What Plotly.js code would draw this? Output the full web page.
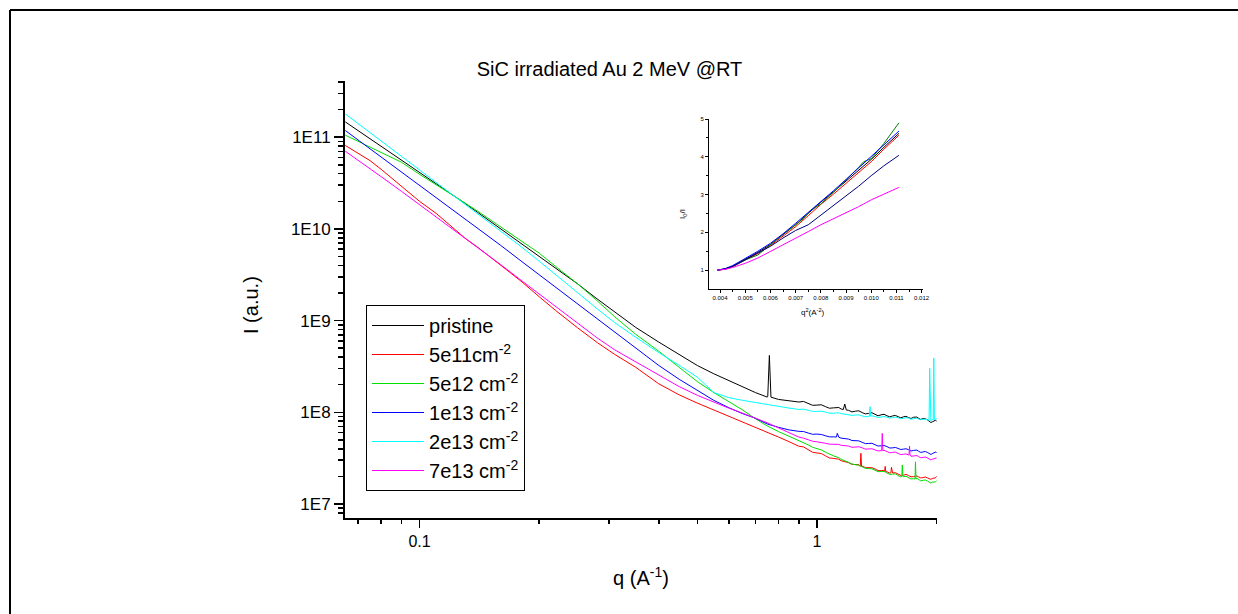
<!DOCTYPE html>
<html>
<head>
<meta charset="utf-8">
<script src="https://cdn.plot.ly/plotly-3.0.1.min.js"></script>
<style>
  html, body { margin:0; padding:0; background:#fff; }
  #chart { width:1238px; height:614px; }
</style>
</head>
<body>
<div id="chart"></div>
<script>
// ---------- Main chart data (q in 1/A, intensity stored as log10(I)) ----------
const qGrid = [0.065,0.07,0.075,0.08,0.09,0.1,0.11,0.12,0.13,0.14,0.16,0.18,0.2,0.22,0.25,0.28,0.31,0.35,0.4,0.45,0.5,0.55,
  0.6,0.65,0.7,0.75,0.8,0.85,0.9,0.95,1.0,1.05,1.1,1.15,1.2,1.25,1.3,1.35,1.4,1.45,1.5,1.55,1.6,1.65,1.7,1.75,1.8,1.85,1.9,1.95,2.0];

const seriesNames = ['pristine','5e11cm<sup>-2</sup>','5e12 cm<sup>-2</sup>','1e13 cm<sup>-2</sup>','2e13 cm<sup>-2</sup>','7e13 cm<sup>-2</sup>'];

const logI_pristine = [11.167,11.073,10.984,10.901,10.751,10.615,10.494,10.382,10.279,10.180,10.000,9.842,9.699,9.572,9.399,9.235,9.090,8.925,8.765,8.630,8.510,8.420,
  8.345,8.275,8.215,8.165,8.140,8.128,8.112,8.098,8.078,8.062,8.048,8.036,8.022,8.012,7.996,7.988,7.978,7.972,7.962,7.960,7.952,7.950,7.942,7.946,7.936,7.932,7.915,7.895,7.905];
const logI_5e11 = [10.910,10.820,10.745,10.650,10.470,10.300,10.170,10.030,9.900,9.800,9.600,9.430,9.260,9.110,8.920,8.760,8.630,8.490,8.310,8.190,8.100,8.025,
  7.960,7.900,7.843,7.780,7.730,7.680,7.630,7.592,7.556,7.526,7.497,7.472,7.451,7.428,7.412,7.394,7.382,7.363,7.352,7.338,7.327,7.314,7.311,7.298,7.296,7.288,7.283,7.278,7.300];
const logI_5e12 = [11.022,10.955,10.892,10.833,10.727,10.595,10.484,10.381,10.283,10.193,10.025,9.877,9.735,9.590,9.400,9.215,9.040,8.850,8.665,8.490,8.335,8.215,
  8.115,8.025,7.930,7.850,7.790,7.740,7.690,7.645,7.605,7.565,7.525,7.488,7.455,7.428,7.405,7.386,7.368,7.354,7.338,7.326,7.310,7.298,7.290,7.276,7.268,7.258,7.248,7.238,7.252];
const logI_1e13 = [11.073,10.970,10.875,10.785,10.620,10.475,10.344,10.222,10.110,10.010,9.820,9.650,9.500,9.365,9.180,9.020,8.875,8.700,8.510,8.360,8.235,8.130,
  8.050,7.985,7.935,7.872,7.836,7.808,7.792,7.774,7.762,7.744,7.732,7.718,7.708,7.690,7.672,7.660,7.646,7.634,7.626,7.612,7.606,7.598,7.592,7.584,7.576,7.568,7.560,7.548,7.562];
const logI_2e13 = [11.254,11.149,11.051,10.960,10.793,10.643,10.509,10.385,10.270,10.166,9.980,9.807,9.648,9.505,9.303,9.127,8.977,8.818,8.650,8.512,8.383,8.215,
  8.160,8.130,8.105,8.088,8.062,8.046,8.031,8.022,8.010,8.002,7.990,7.986,7.974,7.970,7.960,7.956,7.954,7.948,7.946,7.942,7.940,7.934,7.936,7.930,7.928,7.924,7.914,7.920,7.930];
const logI_7e13 = [10.847,10.750,10.655,10.570,10.410,10.265,10.135,10.015,9.905,9.800,9.610,9.440,9.290,9.155,8.970,8.810,8.680,8.550,8.410,8.280,8.185,8.110,
  8.045,7.990,7.940,7.885,7.830,7.775,7.730,7.700,7.678,7.662,7.650,7.640,7.632,7.620,7.612,7.600,7.590,7.582,7.572,7.562,7.552,7.542,7.535,7.525,7.518,7.508,7.500,7.488,7.502];

// extra readings between grid points in the noisy high-q tail (q, log10 I)
const qNoise = [0.925,0.975,1.025,1.075,1.135,1.225,1.275,1.325,1.375,1.425,1.475,1.525,1.575,1.625,1.675,1.725,1.785,1.825,1.875,1.935,1.985];
const noise_pristine = [8.118,8.076,8.082,8.044,8.052,8.004,8.016,7.982,7.995,7.962,7.978,7.950,7.966,7.940,7.956,7.932,7.948,7.922,7.930,7.888,7.912];
const noise_5e11     = [7.622,7.564,7.550,7.502,7.488,7.432,7.428,7.396,7.396,7.364,7.366,7.336,7.341,7.312,7.322,7.296,7.306,7.284,7.294,7.268,7.284];
const noise_5e12     = [7.674,7.618,7.590,7.540,7.505,7.436,7.422,7.388,7.384,7.352,7.356,7.322,7.328,7.296,7.302,7.272,7.280,7.252,7.262,7.228,7.240];
const noise_1e13     = [7.790,7.760,7.758,7.732,7.728,7.692,7.688,7.658,7.662,7.632,7.638,7.610,7.616,7.594,7.602,7.578,7.588,7.562,7.572,7.540,7.566];
const noise_2e13     = [8.034,8.010,8.012,7.990,7.994,7.966,7.972,7.950,7.962,7.944,7.954,7.936,7.948,7.930,7.942,7.924,7.936,7.918,7.926,7.906,7.918];
const noise_7e13     = [7.718,7.684,7.674,7.652,7.650,7.618,7.624,7.598,7.602,7.578,7.586,7.558,7.566,7.538,7.546,7.520,7.528,7.504,7.512,7.480,7.492];

// sharp spikes (q, log10 I)
const spikeQ_pristine = [0.752,0.759,0.766,1.165,1.175,1.185];
const spikeLogI_pristine = [8.175,8.620,8.165,8.030,8.090,8.025];
const spikeQ_5e11 = [1.285,1.29,1.295,1.48,1.485,1.49,1.535,1.54,1.545];
const spikeLogI_5e11 = [7.410,7.553,7.410,7.355,7.410,7.352,7.340,7.400,7.339];
const spikeQ_5e12 = [1.635,1.64,1.645,1.765,1.77,1.775];
const spikeLogI_5e12 = [7.302,7.425,7.300,7.272,7.460,7.270];
const spikeQ_1e13 = [1.12,1.125,1.13];
const spikeLogI_1e13 = [7.730,7.770,7.728];
const spikeQ_2e13 = [1.355,1.36,1.365,1.915,1.922,1.929,1.962,1.968,1.975];
const spikeLogI_2e13 = [7.956,8.060,7.955,7.916,8.480,7.914,7.918,8.590,7.922];
const spikeQ_7e13 = [1.455,1.46,1.465,1.705,1.71,1.715];
const spikeLogI_7e13 = [7.580,7.770,7.580,7.535,7.632,7.534];

const mainColors = ['#000000','#FF0000','#00E000','#0000FF','#00FFFF','#FF00FF'];

// axis tick values
const xMajorTicks = [0.1, 1];
const xMajorLabels = ['0.1', '1'];
const xMinorTicks = [0.07,0.08,0.09,0.2,0.3,0.4,0.5,0.6,0.7,0.8,0.9,2];
const yMajorTicks = [1e7,1e8,1e9,1e10,1e11];
const yMajorLabels = ['1E7','1E8','1E9','1E10','1E11'];
const yMinorTicks = [8e6,9e6,
  2e7,3e7,4e7,5e7,6e7,7e7,8e7,9e7,
  2e8,3e8,4e8,5e8,6e8,7e8,8e8,9e8,
  2e9,3e9,4e9,5e9,6e9,7e9,8e9,9e9,
  2e10,3e10,4e10,5e10,6e10,7e10,8e10,9e10,
  2e11,3e11,4e11];

// ---------- Inset data: I0/I versus q^2 ----------
const q2Grid = [0.0039,0.0042,0.0045,0.005,0.0055,0.006,0.0065,0.007,0.0075,0.008,0.0085,0.009,0.0095,0.01,0.0105,0.0111];
const inset_pristine = [1,1.03,1.10,1.28,1.47,1.68,1.93,2.20,2.50,2.80,3.07,3.36,3.64,3.93,4.25,4.62];
const inset_5e11     = [1,1.02,1.09,1.26,1.44,1.65,1.89,2.15,2.44,2.74,3.01,3.29,3.57,3.87,4.20,4.57];
const q2Green = [0.0039,0.0042,0.0045,0.005,0.0055,0.006,0.0065,0.007,0.0073,0.0076,0.008,0.0085,0.009,0.0095,0.0097,0.01,0.0105,0.0111];
const inset_5e12     = [1,1.03,1.10,1.27,1.40,1.68,1.95,2.20,2.36,2.58,2.75,3.06,3.38,3.72,3.87,3.95,4.35,4.90];
const inset_1e13     = [1,1.04,1.12,1.30,1.50,1.71,1.96,2.24,2.52,2.82,3.10,3.40,3.70,4.00,4.30,4.68];
const inset_2e13     = [1,1.03,1.10,1.28,1.45,1.63,1.85,2.05,2.20,2.45,2.70,2.96,3.22,3.50,3.76,4.04];
const inset_7e13     = [1,1.02,1.07,1.18,1.32,1.49,1.66,1.84,2.02,2.20,2.36,2.51,2.68,2.86,3.02,3.19];
const insetColors = ['#000000','#FF0000','#008000','#0000FF','#000080','#FF00FF'];
const x2Ticks = [0.004,0.005,0.006,0.007,0.008,0.009,0.010,0.011,0.012];
const x2Labels = ['0.004','0.005','0.006','0.007','0.008','0.009','0.010','0.011','0.012'];
const x2Minor = [0.0045,0.0055,0.0065,0.0075,0.0085,0.0095,0.0105,0.0115];
const y2Ticks = [1,2,3,4,5];
const y2Minor = [1.5,2.5,3.5,4.5];

// ---------- build traces ----------
function merge(gridQ, gridLog, nQ, nLog, spQ, spLog) {
  const pts = gridQ.map((q,i)=>[q, gridLog[i]])
    .concat(nQ.map((q,i)=>[q, nLog[i]]))
    .concat(spQ.map((q,i)=>[q, spLog[i]]));
  pts.sort((a,b)=>a[0]-b[0]);
  return { x: pts.map(p=>p[0]), y: pts.map(p=>Math.pow(10, p[1])) };
}
const mainLogs = [logI_pristine, logI_5e11, logI_5e12, logI_1e13, logI_2e13, logI_7e13];
const mainNoise = [noise_pristine, noise_5e11, noise_5e12, noise_1e13, noise_2e13, noise_7e13];
const mainSpQ = [spikeQ_pristine, spikeQ_5e11, spikeQ_5e12, spikeQ_1e13, spikeQ_2e13, spikeQ_7e13];
const mainSpL = [spikeLogI_pristine, spikeLogI_5e11, spikeLogI_5e12, spikeLogI_1e13, spikeLogI_2e13, spikeLogI_7e13];

const traces = [];
mainLogs.forEach((lg, i) => {
  const d = merge(qGrid, lg, qNoise, mainNoise[i], mainSpQ[i], mainSpL[i]);
  traces.push({
    x: d.x, y: d.y, type: 'scatter', mode: 'lines', name: seriesNames[i],
    legendgroup: 'g' + i,
    line: { color: mainColors[i], width: 1 }, xaxis: 'x', yaxis: 'y', hoverinfo: 'skip'
  });
});
const insetY = [inset_pristine, inset_5e11, inset_5e12, inset_1e13, inset_2e13, inset_7e13];
insetY.forEach((vals, i) => {
  traces.push({
    x: (i === 2 ? q2Green : q2Grid), y: vals, type: 'scatter', mode: 'lines', showlegend: false,
    line: { color: insetColors[i], width: 1 }, xaxis: 'x2', yaxis: 'y2', hoverinfo: 'skip'
  });
});

// ---------- layout ----------
const FONT = 'Liberation Sans, Arial, Helvetica, sans-serif';
const layout = {
  width: 1238, height: 614,
  margin: { l: 345, r: 301, t: 81, b: 96, pad: 0 },
  paper_bgcolor: '#ffffff', plot_bgcolor: '#ffffff',
  font: { family: FONT, color: '#000000' },
  showlegend: true,
  title: { text: 'SiC irradiated Au 2 MeV @RT', font: { size: 20, family: FONT, color: '#000' },
           xref: 'paper', x: 0.2225, xanchor: 'left', yref: 'container', y: 1 - 69/614, yanchor: 'middle' },
  xaxis: {
    type: 'log', range: [Math.log10(0.0649), Math.log10(2.005)],
    tickmode: 'array', tickvals: xMajorTicks, ticktext: xMajorLabels,
    ticks: 'outside', ticklen: 8, tickwidth: 1.5, tickcolor: '#000',
    showline: true, linecolor: '#000', linewidth: 2, mirror: false,
    showgrid: false, zeroline: false, tickfont: { size: 16 },
    minor: { tickmode: 'array', tickvals: xMinorTicks, ticks: 'outside', ticklen: 4, tickwidth: 1.5, tickcolor: '#000', showgrid: false },
    title: { text: 'q (A<sup>-1</sup>)', font: { size: 20 }, standoff: 22 }
  },
  yaxis: {
    type: 'log', range: [Math.log10(7.03e6), Math.log10(4.1e11)],
    tickmode: 'array', tickvals: yMajorTicks, ticktext: yMajorLabels,
    ticks: 'outside', ticklen: 9, tickwidth: 1.5, tickcolor: '#000',
    showline: true, linecolor: '#000', linewidth: 2, mirror: false,
    showgrid: false, zeroline: false, tickfont: { size: 17 },
    minor: { tickmode: 'array', tickvals: yMinorTicks, ticks: 'outside', ticklen: 5, tickwidth: 1.5, tickcolor: '#000', showgrid: false }
  },
  xaxis2: {
    domain: [0.6149, 0.9764], anchor: 'y2', range: [0.003563, 0.012056],
    tickmode: 'array', tickvals: x2Ticks, ticktext: x2Labels,
    ticks: 'outside', ticklen: 3, tickwidth: 1, tickcolor: '#000',
    showline: true, linecolor: '#000', linewidth: 1, showgrid: false, zeroline: false,
    tickfont: { size: 6 },
    minor: { tickmode: 'array', tickvals: x2Minor, ticks: 'outside', ticklen: 2, tickwidth: 1, tickcolor: '#000', showgrid: false }
  },
  yaxis2: {
    domain: [0.524, 0.913], anchor: 'x2', range: [0.5, 5.0],
    tickmode: 'array', tickvals: y2Ticks,
    ticks: 'outside', ticklen: 3, tickwidth: 1, tickcolor: '#000',
    showline: true, linecolor: '#000', linewidth: 1, showgrid: false, zeroline: false,
    tickfont: { size: 6 },
    minor: { tickmode: 'array', tickvals: y2Minor, ticks: 'outside', ticklen: 2, tickwidth: 1, tickcolor: '#000', showgrid: false }
  },
  legend: {
    x: 0.0355, y: 0.4874, xanchor: 'left', yanchor: 'top',
    bgcolor: '#ffffff', bordercolor: '#000000', borderwidth: 1,
    font: { size: 20, family: FONT, color: '#000' },
    itemwidth: 52, tracegroupgap: 3, traceorder: 'normal'
  },
  annotations: [
    { text: 'I (a.u.)', xref: 'paper', yref: 'paper', x: (251-345)/592, y: (518-305)/437,
      xanchor: 'center', yanchor: 'middle', showarrow: false, textangle: -90, font: { size: 20 } },
    { text: 'q<sup>2</sup>(A<sup>-2</sup>)', xref: 'paper', yref: 'paper', x: 0.7905, y: 0.4714,
      xanchor: 'center', yanchor: 'middle', showarrow: false, font: { size: 8 } },
    { text: 'I<sub>0</sub>/I', xref: 'paper', yref: 'paper', x: 0.571, y: 0.696,
      xanchor: 'center', yanchor: 'middle', showarrow: false, textangle: -90, font: { size: 8 } }
  ],
  shapes: [
    { type: 'line', xref: 'paper', yref: 'paper', x0: (10-345)/592, x1: 1.53, y0: (518-10)/437, y1: (518-10)/437,
      line: { color: '#000', width: 2 } },
    { type: 'line', xref: 'paper', yref: 'paper', x0: (10-345)/592, x1: (10-345)/592, y0: (518-10)/437, y1: -0.25,
      line: { color: '#000', width: 2 } }
  ]
};

Plotly.newPlot('chart', traces, layout, { staticPlot: true, displayModeBar: false });
</script>
</body>
</html>
